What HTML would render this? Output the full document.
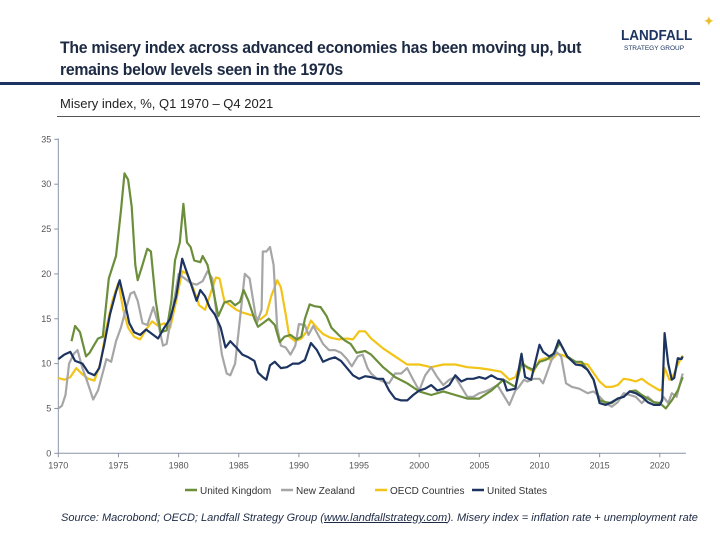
<!DOCTYPE html>
<html><head><meta charset="utf-8"><style>
body{margin:0;background:#fff;font-family:"Liberation Sans",Arial,sans-serif}
#wrap{position:relative;width:720px;height:540px;overflow:hidden}
.t{position:absolute;white-space:nowrap}
</style></head><body>
<div id="wrap">
<div class="t" style="left:60px;top:37px;font-size:17px;font-weight:bold;color:#1d2a44;line-height:22px;letter-spacing:-0.3px;transform:scaleX(0.93);transform-origin:0 0">The misery index across advanced economies has been moving up, but<br>remains below levels seen in the 1970s</div>
<div class="t" style="left:621px;top:27px;font-size:15px;font-weight:bold;color:#1d3461;transform:scaleX(0.9);transform-origin:0 0">LANDFALL</div>
<div class="t" style="left:624px;top:45px;font-size:6.5px;color:#1d3461">STRATEGY GROUP</div>
<div class="t" style="left:703px;top:13px;font-size:14px;color:#e8c030">✦</div>
<div style="position:absolute;left:0;top:82px;width:700px;height:3px;background:#1d3461"></div>
<div class="t" style="left:60px;top:96px;font-size:13px;color:#222">Misery index, %, Q1 1970 – Q4 2021</div>
<div style="position:absolute;left:57px;top:116px;width:643px;height:1px;background:#555"></div>
<svg id="chart" width="720" height="540" style="position:absolute;left:0;top:0"></svg>
<div class="t" style="left:61px;top:512px;font-size:11px;font-style:italic;color:#1d2a44">Source: Macrobond; OECD; Landfall Strategy Group (<u>www.landfallstrategy.com</u>). Misery index = inflation rate + unemployment rate</div>
</div>
<script>
const xTicks=[1970,1975,1980,1985,1990,1995,2000,2005,2010,2015,2020];
const yTicks=[0,5,10,15,20,25,30,35];
const seriesNames=["United Kingdom","New Zealand","OECD Countries","United States"];
const seriesColors=["#6b8e3a","#a6a6a6","#f2c418","#1d3461"];
const ukYears=[1971.1,1971.4,1971.8,1972.3,1972.6,1972.9,1973.3,1973.7,1974.2,1974.8,1975.2,1975.5,1975.8,1976.1,1976.4,1976.6,1977,1977.4,1977.7,1978.1,1978.5,1979,1979.4,1979.7,1980.1,1980.4,1980.7,1981,1981.3,1981.8,1982,1982.4,1982.9,1983.3,1983.8,1984.3,1984.7,1985.1,1985.4,1985.8,1986.3,1986.6,1987,1987.5,1988,1988.4,1988.8,1989.3,1989.8,1990.2,1990.5,1990.9,1991.3,1991.8,1992.3,1992.7,1993.3,1993.8,1994.3,1994.8,1995.5,1996,1997,1998,1999,2000,2001,2002,2003,2004,2005,2006,2007,2007.5,2008,2008.5,2009,2009.5,2010,2010.5,2011,2011.7,2012.3,2013,2013.5,2014,2014.5,2015,2015.5,2016,2016.5,2017,2017.5,2018,2018.5,2019,2019.5,2020,2020.5,2021,2021.5,2021.9];
const ukVals=[12.5,14.2,13.5,10.8,11.2,11.9,12.8,13,19.5,22,27,31.2,30.5,27.5,21,19.3,21,22.8,22.5,17,13.5,13.7,17,21.5,23.5,27.8,23.5,23,21.5,21.3,22,21,18,15.3,16.8,17,16.5,16.9,18.2,17,15,14.1,14.5,15,14.3,12.4,13,13.2,12.7,13,15,16.6,16.4,16.3,15.3,14,13.2,12.6,12.2,11.2,11.4,11,9.6,8.5,7.8,6.9,6.5,6.9,6.5,6.1,6.1,7,8.2,7.8,7.4,10,9.6,9.3,10.2,10.4,10.8,12.3,10.8,10.2,10.2,9.3,8.2,5.9,5.7,5.6,6.1,6.3,6.9,7,6.5,6.1,5.7,5.6,5,5.9,7,8.5];
const nzYears=[1970,1970.3,1970.6,1970.9,1971.3,1971.6,1972,1972.4,1972.9,1973.3,1973.7,1974,1974.4,1974.8,1975.2,1975.6,1976,1976.3,1976.6,1977,1977.4,1977.9,1978.3,1978.7,1979,1979.5,1980,1980.5,1981,1981.5,1982,1982.4,1982.8,1983.2,1983.6,1984,1984.3,1984.7,1985.1,1985.5,1985.9,1986.2,1986.5,1986.9,1987,1987.3,1987.6,1987.9,1988.2,1988.5,1988.9,1989.3,1989.7,1990,1990.5,1990.8,1991.2,1991.6,1992,1992.5,1993,1993.5,1994,1994.4,1994.9,1995.3,1995.7,1996,1996.5,1997,1997.5,1998,1998.5,1999,1999.5,2000,2000.5,2001,2001.5,2002,2002.5,2003,2003.5,2004,2004.5,2005,2005.5,2006,2006.5,2007,2007.5,2008,2008.3,2008.7,2009,2009.5,2010,2010.3,2010.6,2011,2011.4,2011.8,2012.2,2012.7,2013.3,2014,2014.5,2015,2015.5,2016,2016.5,2017,2017.5,2018,2018.5,2019,2019.5,2020,2020.3,2020.7,2021,2021.4,2021.9];
const nzVals=[5,5.3,6.5,10,11.1,11.5,9.5,8,6,7,9,10.5,10.2,12.5,14,16,17.8,18,17,14.5,14.3,16.3,14.5,12,12.2,16,20,19.5,19,18.8,19.2,20.3,19.5,15,11,8.9,8.7,10,15,20,19.5,17,14.5,16,22.5,22.5,23,21,14,12,11.8,11,12,14.4,14.3,13.2,14.2,13.2,12.2,11.5,11.5,11.2,10.5,9.7,10.8,11,9.5,8.9,8.3,8,7.8,8.9,8.9,9.5,8.2,7,8.7,9.6,8.5,7.6,8.2,8.5,7.4,6.3,6.3,6.7,6.9,7.2,7.6,6.5,5.4,7,7.4,8.2,8,8.3,8.3,7.8,8.9,10.4,11.3,10.8,7.8,7.4,7.2,6.7,6.9,6.3,5.6,5.2,5.7,6.7,6.5,6.3,5.6,6.3,5.7,5.6,6.3,5.6,6.7,6.3,8.9];
const oeYears=[1970,1970.5,1971,1971.5,1972,1972.5,1973,1973.5,1974,1974.5,1975,1975.4,1975.8,1976.3,1976.8,1977.3,1977.8,1978.3,1978.8,1979.3,1979.8,1980.3,1980.7,1981.2,1981.7,1982.2,1982.7,1983.1,1983.4,1983.8,1984.3,1984.8,1985.3,1985.8,1986.3,1986.8,1987.3,1987.7,1988.2,1988.5,1988.9,1989.2,1989.7,1990.2,1990.6,1991,1991.5,1992,1992.6,1993.3,1994,1994.5,1995,1995.5,1996,1997,1998,1999,2000,2001,2002,2003,2004,2005,2006,2006.8,2007.5,2008,2008.5,2009,2009.5,2010,2010.5,2011,2011.5,2012,2013,2014,2015,2015.5,2016,2016.5,2017,2017.5,2018,2018.5,2019,2019.5,2020,2020.2,2020.4,2020.8,2021,2021.5,2021.9];
const oeVals=[8.4,8.2,8.5,9.5,8.8,8.3,8.1,10,14,17,19,16,14,13,12.7,13.8,14.7,14.2,14.5,14,17,20.3,20,18.5,16.5,16,18,19.6,19.5,17,16.5,16,15.7,15.5,15.3,14.9,15.5,17.5,19.3,18.5,15.5,13,12.5,12.8,13.5,14.8,14,13.3,12.9,12.7,12.8,12.7,13.6,13.6,12.8,11.7,10.8,9.9,9.9,9.6,9.9,9.9,9.6,9.5,9.3,9.1,8.2,8.5,10.2,9.5,9.1,10.4,10.6,10.4,11.1,10.9,10.2,9.9,8,7.4,7.4,7.6,8.3,8.2,8,8.3,7.8,7.4,7,7.2,9.5,8.2,8.3,9.9,10.9];
const usYears=[1970,1970.5,1971,1971.4,1972,1972.5,1973,1973.4,1973.8,1974.3,1974.8,1975.1,1975.5,1975.9,1976.3,1976.8,1977.3,1977.8,1978.3,1978.8,1979.3,1979.8,1980.3,1980.6,1981,1981.5,1981.8,1982.2,1982.6,1983,1983.5,1983.9,1984.3,1984.8,1985.3,1985.8,1986.3,1986.6,1987,1987.3,1987.6,1988,1988.5,1989,1989.5,1990,1990.5,1991,1991.5,1992,1992.5,1993,1993.5,1994,1994.5,1995,1995.5,1996,1996.5,1997,1997.5,1998,1998.5,1999,1999.5,2000,2000.5,2001,2001.5,2002,2002.5,2003,2003.5,2004,2004.5,2005,2005.5,2006,2006.5,2007,2007.3,2008,2008.5,2008.8,2009.3,2010,2010.3,2010.8,2011.2,2011.6,2012.3,2013,2013.5,2014,2014.5,2015,2015.5,2016,2016.5,2017,2017.5,2018,2018.5,2019,2019.5,2020,2020.2,2020.4,2020.7,2021,2021.2,2021.5,2021.8,2021.9];
const usVals=[10.5,11,11.3,10.3,10,9,8.7,9.5,12,15.5,18,19.3,17,14.5,13.5,13.2,13.8,13.3,12.8,14,15,17.5,21.7,20.5,19,17,18.2,17.5,16.2,15.5,14,11.8,12.5,11.8,11,10.7,10.3,9,8.5,8.2,9.8,10.2,9.5,9.6,10,10,10.4,12.3,11.5,10.2,10.5,10.7,10.3,9.5,8.7,8.3,8.6,8.5,8.3,8.3,7,6.1,5.9,5.9,6.5,7,7.2,7.6,7,7.2,7.6,8.7,8,8.3,8.3,8.5,8.3,8.7,8.3,8.2,7,7.2,11.1,8.5,8.2,12.1,11.3,10.8,11.1,12.6,10.8,9.9,9.8,9.3,8.2,5.6,5.4,5.7,6.1,6.3,6.9,6.7,6.3,5.7,5.4,5.4,5.9,13.4,10,8.2,8.4,10.6,10.5,10.8];
const seriesYears=[ukYears,nzYears,oeYears,usYears];
const seriesVals=[ukVals,nzVals,oeVals,usVals];

const NS="http://www.w3.org/2000/svg";
const svg=document.getElementById('chart');
const X0=58.3,PXY=12.03,Y0=453.3,PXV=8.97;
function xs(y){return X0+(y-1970)*PXY;}
function ys(v){return Y0-v*PXV;}
function mk(tag,attrs){const e=document.createElementNS(NS,tag);for(const k in attrs)e.setAttribute(k,attrs[k]);svg.appendChild(e);return e;}
let e;
e=mk('line',{x1:X0,y1:ys(35)-1,x2:X0,y2:Y0,stroke:'#8a94a6','stroke-width':1});


e=mk('line',{x1:X0,y1:Y0,x2:686,y2:Y0,stroke:'#8a94a6','stroke-width':1});


yTicks.forEach(v=>{
  const t=mk('line',{x1:X0-4,x2:X0,y1:ys(v),y2:ys(v),stroke:'#8a94a6'});
  
  
  const l=mk('text',{x:X0-7,y:ys(v)+3,'text-anchor':'end','font-size':9,fill:'#555','font-family':'Liberation Sans, sans-serif'});
  l.textContent=v;
  
  
});
xTicks.forEach(yr=>{
  const t=mk('line',{x1:xs(yr),x2:xs(yr),y1:Y0,y2:Y0+4,stroke:'#8a94a6'});
  
  
  const l=mk('text',{x:xs(yr),y:Y0+15,'text-anchor':'middle','font-size':9,fill:'#555','font-family':'Liberation Sans, sans-serif'});
  l.textContent=yr;
  
  
});
const order=[2,1,0,3];
order.forEach(i=>{
  const d=seriesYears[i].map((yr,j)=>(j?'L':'M')+xs(yr).toFixed(1)+' '+ys(seriesVals[i][j]).toFixed(1)).join(' ');
  const p=mk('path',{d:d,fill:'none',stroke:seriesColors[i],'stroke-width':2.2,'stroke-linejoin':'round'});
  
  
});
const legX=[185,281,375,472];
seriesNames.forEach((n,i)=>{
  const l=mk('line',{x1:legX[i],x2:legX[i]+12,y1:490,y2:490,stroke:seriesColors[i],'stroke-width':2.5});
  
  
  const t=mk('text',{x:legX[i]+15,y:494,'font-size':10,fill:'#333','font-family':'Liberation Sans, sans-serif'});
  t.textContent=n;
  
  
});
</script>
</body></html>
